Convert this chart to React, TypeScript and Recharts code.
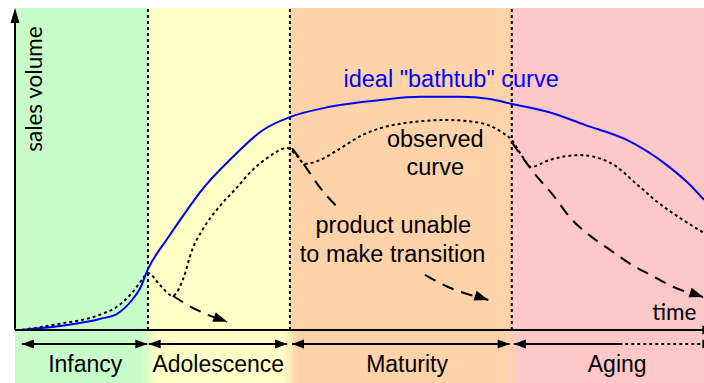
import { ComposedChart, Line, XAxis, YAxis, ReferenceArea, ReferenceLine, ReferenceDot } from 'recharts';

// canvas + plot geometry (plot spans the axes box and the phase band below it)
const W = 704;
const H = 383;
const MARGIN = { top: 8, right: 0, bottom: 0, left: 15 };
const X_MIN = 0;
const X_MAX = 100;
const Y_MIN = -16.5;
const Y_MAX = 100;
const PX_X = (W - MARGIN.left - MARGIN.right) / (X_MAX - X_MIN);
const PX_Y = (H - MARGIN.top - MARGIN.bottom) / (Y_MAX - Y_MIN);

// phases of the product life cycle
const PHASES = ['Infancy', 'Adolescence', 'Maturity', 'Aging'];
const PHASE_BOUNDS = [0, 19.3, 39.9, 72.1, 100];
const PHASE_COLORS = ['#c8fcc8', '#ffffc8', '#ffd3aa', '#ffc8c8'];
const PHASE_ARROWS = [[1.0, 19.2], [19.4, 39.5], [40.2, 71.8], [72.4, 101.5]];
const PHASE_LABEL_X = [10.2, 29.5, 56.9, 87.4];
const AGING_SOLID_END = 87.7;
const PHASE_ARROW_Y = -4.35;
const PHASE_LABEL_Y = -13.0;

// ideal "bathtub" curve
const IDEAL = [
  { x: 1.0, y: 0 }, { x: 6.5, y: 1.2 }, { x: 12.3, y: 3.4 }, { x: 14.8, y: 5.0 },
  { x: 17.1, y: 9.6 }, { x: 18.1, y: 12.7 }, { x: 19.3, y: 18.9 }, { x: 22.1, y: 28.3 },
  { x: 25.0, y: 37.3 }, { x: 26.9, y: 42.9 }, { x: 31.6, y: 53.7 }, { x: 36.0, y: 62.1 },
  { x: 39.9, y: 66.1 }, { x: 45.7, y: 69.3 }, { x: 53.0, y: 71.4 },
  { x: 58.8, y: 72.4 }, { x: 64.6, y: 72.4 }, { x: 68.9, y: 71.7 }, { x: 72.1, y: 70.2 },
  { x: 77.9, y: 67.4 }, { x: 82.7, y: 63.7 }, { x: 88.8, y: 59.0 }, { x: 94.6, y: 51.2 },
  { x: 97.5, y: 46.0 }, { x: 100, y: 40.4 },
];

// observed curve
const OBSERVED = [
  { x: 1.0, y: 0 }, { x: 6.5, y: 1.9 }, { x: 12.3, y: 4.7 }, { x: 15.2, y: 7.8 },
  { x: 17.1, y: 11.8 }, { x: 18.4, y: 15.5 }, { x: 19.3, y: 17.7 }, { x: 21.0, y: 14.0 },
  { x: 22.9, y: 10.6 }, { x: 24.4, y: 15.8 }, { x: 25.7, y: 24.8 }, { x: 27.3, y: 31.4 },
  { x: 29.5, y: 37.9 }, { x: 31.9, y: 43.5 }, { x: 34.5, y: 49.7 }, { x: 36.6, y: 53.4 },
  { x: 39.5, y: 56.5 }, { x: 40.8, y: 54.3 }, { x: 42.1, y: 51.6 }, { x: 44.3, y: 52.8 },
  { x: 46.4, y: 55.3 }, { x: 50.5, y: 60.6 }, { x: 57.8, y: 64.6 }, { x: 62.7, y: 65.2 },
  { x: 67.5, y: 64.3 }, { x: 70.8, y: 61.2 }, { x: 72.1, y: 59.0 }, { x: 73.6, y: 54.0 },
  { x: 74.9, y: 50.6 }, { x: 77.6, y: 52.8 }, { x: 82.0, y: 54.3 }, { x: 86.4, y: 51.9 },
  { x: 90.7, y: 44.4 }, { x: 93.2, y: 39.8 }, { x: 96.5, y: 34.8 }, { x: 100, y: 30.1 },
];

// "product unable to make transition" drop-offs
const DROP_1 = [{ x: 22.9, y: 10.6 }, { x: 25.0, y: 7.8 }, { x: 27.6, y: 5.0 }, { x: 30.8, y: 2.5 }];
const DROP_2A = [{ x: 40.2, y: 56.5 }, { x: 42.1, y: 50.9 }, { x: 44.3, y: 44.1 }, { x: 46.9, y: 37.9 }];
const DROP_2B = [{ x: 59.5, y: 17.1 }, { x: 62.8, y: 13.4 }, { x: 68.7, y: 9.3 }];
const DROP_3 = [
  { x: 72.1, y: 58.4 }, { x: 73.6, y: 53.7 }, { x: 75.8, y: 47.5 }, { x: 78.1, y: 41.9 },
  { x: 80.6, y: 34.8 }, { x: 83.5, y: 29.2 }, { x: 86.4, y: 24.8 }, { x: 89.3, y: 20.5 },
  { x: 92.2, y: 17.1 }, { x: 95.5, y: 13.4 }, { x: 99.9, y: 10.2 },
];

// annotations
const NOTES = ['ideal "bathtub" curve', 'observed', 'curve', 'product unable', 'to make transition'];
const NOTE_X = [63.3, 61.0, 61.0, 54.9, 54.8];
const NOTE_Y = [75.5, 56.8, 48.1, 30.1, 21.1];
const NOTE_COLORS = ['#0000ff', '#000', '#000', '#000', '#000'];

const ARIAL = '"Liberation Sans", Arial, sans-serif';
const CALIBRI = 'Lato, "Open Sans", sans-serif';

function arrowShape(angle: number, len = 13, half = 5) {
  return (p: any) => (
    <polygon
      points={`0,0 ${-len},${-half} ${-len},${half}`}
      transform={`translate(${p.cx},${p.cy}) rotate(${angle})`}
      fill="#000"
    />
  );
}

function endArrow(data: { x: number; y: number }[]) {
  return (p: any) => {
    const i = p.index;
    if (i !== data.length - 1) return <g key={`d${i}`} />;
    const a = data[i];
    const b = data[i - 1];
    const ang = (Math.atan2(-(a.y - b.y) * PX_Y, (a.x - b.x) * PX_X) * 180) / Math.PI;
    return <g key={`d${i}`}>{arrowShape(ang, 14, 5)(p)}</g>;
  };
}

function textShape(t: string, size: number, family: string, fill = '#000', rotate = 0) {
  return (p: any) => (
    <text
      x={p.cx}
      y={p.cy}
      textAnchor="middle"
      fontSize={size}
      fontFamily={family}
      fill={fill}
      transform={rotate ? `rotate(${rotate},${p.cx},${p.cy})` : undefined}
    >
      {t}
    </text>
  );
}

export default function App() {
  const dropLine = (data: { x: number; y: number }[], key: string, arrow: boolean) => (
    <Line
      key={key}
      data={data}
      dataKey="y"
      type="monotone"
      stroke="#000"
      strokeWidth={2}
      strokeDasharray="12 8"
      dot={arrow ? endArrow(data) : false}
      activeDot={false}
      isAnimationActive={false}
    />
  );

  return (
    <div style={{ position: 'absolute', left: 0, top: 0, width: W, height: H, background: '#fff' }}>
      <ComposedChart width={W} height={H} margin={MARGIN}>
        <defs>
          <linearGradient id="bandFade" x1="0" y1="0" x2="1" y2="0">
            <stop offset="0.181" stopColor={PHASE_COLORS[0]} />
            <stop offset="0.208" stopColor={PHASE_COLORS[1]} />
            <stop offset="0.388" stopColor={PHASE_COLORS[1]} />
            <stop offset="0.411" stopColor={PHASE_COLORS[2]} />
            <stop offset="0.711" stopColor={PHASE_COLORS[2]} />
            <stop offset="0.733" stopColor={PHASE_COLORS[3]} />
          </linearGradient>
        </defs>
        <XAxis type="number" dataKey="x" domain={[X_MIN, X_MAX]} allowDataOverflow hide />
        <YAxis type="number" domain={[Y_MIN, Y_MAX]} allowDataOverflow hide />

        {PHASES.map((p, i) => (
          <ReferenceArea
            key={`bg-${p}`}
            x1={PHASE_BOUNDS[i]}
            x2={PHASE_BOUNDS[i + 1]}
            y1={0}
            y2={Y_MAX}
            fill={PHASE_COLORS[i]}
            fillOpacity={1}
            stroke="none"
          />
        ))}
        <ReferenceArea x1={X_MIN} x2={X_MAX} y1={Y_MIN} y2={0} fill="url(#bandFade)" fillOpacity={1} stroke="none" />

        {PHASE_BOUNDS.slice(1, -1).map((b) => (
          <ReferenceLine
            key={`div-${b}`}
            segment={[{ x: b, y: 0 }, { x: b, y: Y_MAX }]}
            stroke="#000"
            strokeWidth={2}
            strokeDasharray="3 3"
          />
        ))}

        <Line
          data={OBSERVED}
          dataKey="y"
          type="monotone"
          stroke="#000"
          strokeWidth={2}
          strokeDasharray="3 3"
          dot={false}
          activeDot={false}
          isAnimationActive={false}
        />
        <Line
          data={IDEAL}
          dataKey="y"
          type="monotone"
          stroke="#0000ff"
          strokeWidth={2}
          dot={false}
          activeDot={false}
          isAnimationActive={false}
        />
        {dropLine(DROP_1, 'drop1', true)}
        {dropLine(DROP_2A, 'drop2a', false)}
        {dropLine(DROP_2B, 'drop2b', true)}
        {dropLine(DROP_3, 'drop3', true)}

        {/* axes with arrow heads */}
        <ReferenceLine segment={[{ x: 0, y: 0 }, { x: 0, y: 96 }]} stroke="#000" strokeWidth={2} />
        <ReferenceLine segment={[{ x: 0, y: 0 }, { x: X_MAX, y: 0 }]} stroke="#000" strokeWidth={2} />
        <ReferenceDot x={0} y={Y_MAX} r={0} ifOverflow="visible" shape={arrowShape(-90, 15, 4.5)} />
        <ReferenceDot x={101.5} y={0} r={0} ifOverflow="visible" shape={arrowShape(0, 12, 4.5)} />

        {/* phase double arrows */}
        {PHASE_ARROWS.map(([a, b], i) => (
          <ReferenceLine
            key={`pa-${i}`}
            segment={[{ x: a, y: PHASE_ARROW_Y }, { x: i === 3 ? AGING_SOLID_END : b, y: PHASE_ARROW_Y }]}
            stroke="#000"
            strokeWidth={2}
            ifOverflow="visible"
          />
        ))}
        <ReferenceLine
          segment={[{ x: AGING_SOLID_END, y: PHASE_ARROW_Y }, { x: X_MAX, y: PHASE_ARROW_Y }]}
          stroke="#000"
          strokeWidth={2}
          strokeDasharray="3 3"
        />
        {PHASE_ARROWS.map(([a, b], i) => [
          <ReferenceDot key={`pl-${i}`} x={a} y={PHASE_ARROW_Y} r={0} ifOverflow="visible" shape={arrowShape(180, 12, 4.5)} />,
          <ReferenceDot key={`pr-${i}`} x={b} y={PHASE_ARROW_Y} r={0} ifOverflow="visible" shape={arrowShape(0, 12, 4.5)} />,
        ])}
        {PHASES.map((p, i) => (
          <ReferenceDot
            key={`lbl-${p}`}
            x={PHASE_LABEL_X[i]}
            y={PHASE_LABEL_Y}
            r={0}
            ifOverflow="visible"
            shape={textShape(p, 23, ARIAL)}
          />
        ))}

        {/* annotations */}
        {NOTES.map((t, i) => (
          <ReferenceDot
            key={`note-${i}`}
            x={NOTE_X[i]}
            y={NOTE_Y[i]}
            r={0}
            ifOverflow="visible"
            shape={textShape(t, 23.5, ARIAL, NOTE_COLORS[i])}
          />
        ))}
        <ReferenceDot x={3.9} y={74.8} r={0} ifOverflow="visible" shape={textShape('sales volume', 22.5, CALIBRI, '#000', -90)} />
        <ReferenceDot x={95.7} y={3.1} r={0} ifOverflow="visible" shape={textShape('time', 22.5, CALIBRI)} />
      </ComposedChart>
    </div>
  );
}
